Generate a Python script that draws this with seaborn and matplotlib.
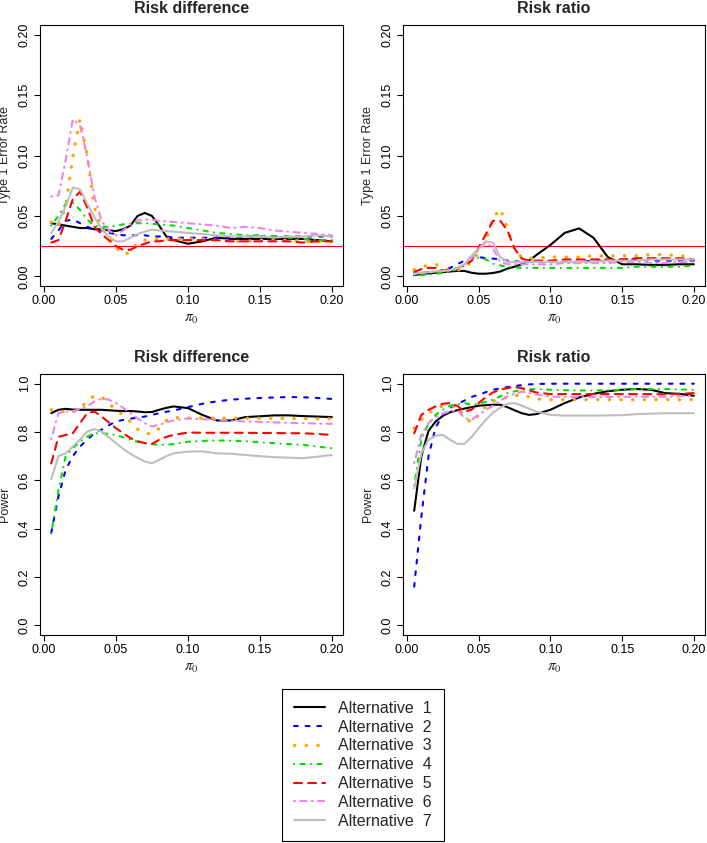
import matplotlib
matplotlib.use("Agg")
import matplotlib.pyplot as plt
import seaborn as sns

# baseline risk grid (x axis of every panel)
pi0 = [0.005, 0.01, 0.015, 0.02, 0.025, 0.03, 0.035, 0.04, 0.045, 0.05,
       0.055, 0.06, 0.065, 0.07, 0.075, 0.08, 0.085, 0.09, 0.10, 0.11,
       0.12, 0.13, 0.14, 0.15, 0.16, 0.17, 0.18, 0.19, 0.20]

# type 1 error, risk difference
rd_err = [
    [0.044, 0.043, 0.042, 0.041, 0.040, 0.040, 0.039, 0.039, 0.038, 0.0375, 0.039, 0.042, 0.050, 0.0525, 0.050, 0.042, 0.033, 0.030, 0.027, 0.029, 0.032, 0.031, 0.031, 0.031, 0.031, 0.031, 0.031, 0.030, 0.029],
    [0.031, 0.038, 0.046, 0.047, 0.044, 0.041, 0.039, 0.038, 0.036, 0.035, 0.034, 0.034, 0.034, 0.034, 0.033, 0.033, 0.033, 0.032, 0.032, 0.032, 0.032, 0.032, 0.033, 0.033, 0.033, 0.033, 0.033, 0.033, 0.033],
    [0.045, 0.041, 0.058, 0.099, 0.130, 0.100, 0.057, 0.040, 0.034, 0.024, 0.018, 0.020, 0.028, 0.030, 0.031, 0.031, 0.031, 0.031, 0.031, 0.031, 0.030, 0.029, 0.029, 0.030, 0.030, 0.030, 0.029, 0.029, 0.029],
    [0.042, 0.050, 0.060, 0.061, 0.055, 0.047, 0.042, 0.041, 0.041, 0.042, 0.043, 0.0437, 0.044, 0.044, 0.0435, 0.043, 0.0425, 0.042, 0.040, 0.038, 0.036, 0.035, 0.034, 0.034, 0.033, 0.032, 0.031, 0.030, 0.030],
    [0.028, 0.030, 0.046, 0.064, 0.070, 0.057, 0.041, 0.035, 0.030, 0.025, 0.022, 0.022, 0.025, 0.027, 0.029, 0.029, 0.030, 0.030, 0.030, 0.030, 0.030, 0.029, 0.029, 0.029, 0.029, 0.029, 0.028, 0.029, 0.029],
    [0.066, 0.067, 0.096, 0.130, 0.125, 0.099, 0.066, 0.046, 0.038, 0.034, 0.038, 0.043, 0.046, 0.047, 0.047, 0.046, 0.0455, 0.045, 0.044, 0.043, 0.042, 0.040, 0.041, 0.040, 0.038, 0.037, 0.036, 0.035, 0.034],
    [0.036, 0.045, 0.058, 0.0736, 0.072, 0.060, 0.049, 0.039, 0.033, 0.029, 0.029, 0.032, 0.035, 0.037, 0.0387, 0.038, 0.0375, 0.037, 0.036, 0.035, 0.034, 0.033, 0.033, 0.033, 0.032, 0.033, 0.033, 0.034, 0.033],
]

# type 1 error, risk ratio
rr_err = [
    [0.001, 0.002, 0.0025, 0.003, 0.0035, 0.004, 0.0045, 0.0045, 0.003, 0.0022, 0.0022, 0.0028, 0.004, 0.0064, 0.008, 0.010, 0.013, 0.0175, 0.026, 0.036, 0.0397, 0.032, 0.016, 0.010, 0.010, 0.0095, 0.0095, 0.010, 0.010],
    [0.002, 0.003, 0.0035, 0.004, 0.005, 0.007, 0.010, 0.013, 0.016, 0.016, 0.015, 0.0147, 0.014, 0.013, 0.0125, 0.012, 0.012, 0.012, 0.012, 0.012, 0.012, 0.013, 0.013, 0.014, 0.014, 0.013, 0.013, 0.013, 0.013],
    [0.0055, 0.008, 0.009, 0.010, 0.007, 0.005, 0.005, 0.007, 0.012, 0.020, 0.030, 0.048, 0.056, 0.040, 0.021, 0.016, 0.015, 0.015, 0.016, 0.016, 0.016, 0.017, 0.017, 0.017, 0.017, 0.018, 0.018, 0.017, 0.016],
    [0.001, 0.001, 0.0015, 0.002, 0.003, 0.004, 0.006, 0.009, 0.013, 0.0155, 0.014, 0.0105, 0.009, 0.008, 0.0075, 0.007, 0.007, 0.007, 0.007, 0.007, 0.007, 0.007, 0.007, 0.007, 0.008, 0.008, 0.008, 0.008, 0.009],
    [0.0036, 0.006, 0.007, 0.007, 0.005, 0.005, 0.007, 0.009, 0.013, 0.024, 0.035, 0.046, 0.046, 0.038, 0.023, 0.0147, 0.013, 0.013, 0.013, 0.014, 0.014, 0.014, 0.014, 0.014, 0.015, 0.015, 0.015, 0.015, 0.014],
    [0.002, 0.003, 0.0035, 0.004, 0.0045, 0.005, 0.007, 0.009, 0.015, 0.022, 0.029, 0.023, 0.012, 0.010, 0.010, 0.010, 0.010, 0.010, 0.010, 0.011, 0.011, 0.011, 0.011, 0.012, 0.012, 0.011, 0.011, 0.012, 0.012],
    [0.002, 0.003, 0.0035, 0.004, 0.0045, 0.005, 0.007, 0.010, 0.017, 0.023, 0.029, 0.0278, 0.016, 0.012, 0.012, 0.012, 0.012, 0.012, 0.012, 0.012, 0.012, 0.012, 0.013, 0.013, 0.013, 0.014, 0.014, 0.014, 0.014],
]

# power, risk difference
rd_pow = [
    [0.878, 0.892, 0.896, 0.893, 0.892, 0.892, 0.892, 0.892, 0.890, 0.888, 0.887, 0.887, 0.885, 0.882, 0.883, 0.892, 0.900, 0.906, 0.899, 0.871, 0.848, 0.848, 0.862, 0.865, 0.869, 0.869, 0.866, 0.864, 0.862],
    [0.383, 0.533, 0.643, 0.700, 0.740, 0.768, 0.795, 0.810, 0.828, 0.844, 0.850, 0.855, 0.860, 0.864, 0.871, 0.878, 0.884, 0.889, 0.903, 0.917, 0.927, 0.934, 0.938, 0.941, 0.943, 0.945, 0.944, 0.941, 0.937],
    [0.892, 0.885, 0.885, 0.884, 0.895, 0.930, 0.950, 0.945, 0.918, 0.892, 0.870, 0.843, 0.812, 0.795, 0.792, 0.815, 0.848, 0.860, 0.858, 0.858, 0.858, 0.857, 0.857, 0.857, 0.857, 0.856, 0.856, 0.855, 0.855],
    [0.380, 0.560, 0.700, 0.733, 0.760, 0.781, 0.795, 0.795, 0.792, 0.788, 0.778, 0.768, 0.760, 0.754, 0.750, 0.747, 0.748, 0.750, 0.760, 0.763, 0.765, 0.764, 0.762, 0.758, 0.754, 0.750, 0.747, 0.740, 0.733],
    [0.670, 0.780, 0.788, 0.795, 0.837, 0.878, 0.885, 0.864, 0.840, 0.816, 0.795, 0.775, 0.762, 0.754, 0.751, 0.768, 0.780, 0.788, 0.798, 0.797, 0.797, 0.797, 0.797, 0.796, 0.796, 0.795, 0.795, 0.792, 0.788],
    [0.770, 0.878, 0.885, 0.885, 0.895, 0.906, 0.927, 0.938, 0.934, 0.920, 0.900, 0.878, 0.857, 0.837, 0.823, 0.830, 0.840, 0.848, 0.856, 0.853, 0.851, 0.847, 0.844, 0.842, 0.840, 0.838, 0.837, 0.835, 0.834],
    [0.604, 0.700, 0.712, 0.740, 0.768, 0.802, 0.812, 0.802, 0.778, 0.754, 0.730, 0.710, 0.693, 0.678, 0.671, 0.685, 0.700, 0.712, 0.719, 0.720, 0.712, 0.710, 0.705, 0.700, 0.696, 0.694, 0.692, 0.698, 0.705],
]

# power, risk ratio
rr_pow = [
    [0.474, 0.700, 0.805, 0.844, 0.867, 0.882, 0.890, 0.897, 0.903, 0.909, 0.911, 0.913, 0.913, 0.903, 0.890, 0.878, 0.871, 0.874, 0.892, 0.920, 0.943, 0.958, 0.969, 0.975, 0.978, 0.975, 0.961, 0.958, 0.950],
    [0.160, 0.450, 0.700, 0.820, 0.870, 0.899, 0.915, 0.930, 0.945, 0.955, 0.965, 0.975, 0.981, 0.986, 0.990, 0.994, 0.997, 0.999, 1.0, 1.0, 1.0, 1.0, 1.0, 1.0, 1.0, 1.0, 1.0, 1.0, 1.0],
    [0.816, 0.851, 0.878, 0.895, 0.909, 0.909, 0.906, 0.864, 0.838, 0.871, 0.906, 0.927, 0.937, 0.945, 0.950, 0.955, 0.945, 0.937, 0.934, 0.934, 0.934, 0.934, 0.934, 0.934, 0.934, 0.934, 0.934, 0.934, 0.934],
    [0.580, 0.768, 0.837, 0.871, 0.892, 0.909, 0.915, 0.920, 0.913, 0.917, 0.925, 0.934, 0.948, 0.961, 0.968, 0.975, 0.977, 0.978, 0.975, 0.973, 0.972, 0.972, 0.973, 0.975, 0.978, 0.978, 0.978, 0.976, 0.975],
    [0.795, 0.871, 0.892, 0.906, 0.917, 0.920, 0.909, 0.885, 0.892, 0.920, 0.945, 0.964, 0.975, 0.982, 0.986, 0.982, 0.973, 0.964, 0.957, 0.957, 0.957, 0.957, 0.957, 0.957, 0.957, 0.957, 0.956, 0.958, 0.961],
    [0.671, 0.788, 0.837, 0.862, 0.876, 0.885, 0.892, 0.858, 0.851, 0.871, 0.892, 0.909, 0.930, 0.947, 0.958, 0.967, 0.962, 0.955, 0.947, 0.945, 0.945, 0.945, 0.945, 0.946, 0.946, 0.946, 0.946, 0.948, 0.950],
    [0.567, 0.712, 0.768, 0.785, 0.788, 0.768, 0.751, 0.751, 0.779, 0.816, 0.851, 0.881, 0.900, 0.917, 0.920, 0.909, 0.897, 0.885, 0.871, 0.868, 0.868, 0.868, 0.869, 0.870, 0.874, 0.876, 0.878, 0.878, 0.878],
]

alt_labels = [f"Alternative  {i}" for i in range(1, 8)]
alt_colors = ["black", "#0000FF", "#FFA500", "#00DD00", "#FF0000", "#EE82EE", "#BEBEBE"]
# R-like line types (round caps, so "on" parts are shortened)
alt_styles = ["-", (0, (1.8, 3.8)), (0, (0.1, 3.4)), (0, (0.1, 3.0, 2.0, 3.0)),
              (0, (3.8, 3.0)), (0, (0.5, 2.5, 3.0, 2.5)), "-"]
alt_widths = [1.5, 1.5, 2.4, 1.5, 1.5, 1.5, 1.5]

sns.set_theme(style="ticks")
plt.rcParams["font.family"] = ["Liberation Sans", "DejaVu Sans"]
plt.rcParams["mathtext.fontset"] = "stix"

fig = plt.figure(figsize=(7.07, 8.43), dpi=100)

panels = [
    ([0.0566, 0.6607, 0.4286, 0.3096], rd_err, "Risk difference", "Type 1 Error Rate", True),
    ([0.5700, 0.6607, 0.4272, 0.3096], rr_err, "Risk ratio", "Type 1 Error Rate", True),
    ([0.0566, 0.2467, 0.4286, 0.3096], rd_pow, "Risk difference", "Power", False),
    ([0.5700, 0.2467, 0.4272, 0.3096], rr_pow, "Risk ratio", "Power", False),
]

handles = []
for rect, series, title, ylab, is_err in panels:
    ax = fig.add_axes(rect)
    if is_err:
        ax.axhline(0.025, color="red", lw=0.8, zorder=1)
    for k, y in enumerate(series):
        sns.lineplot(x=pi0, y=y, ax=ax, color=alt_colors[k], linewidth=alt_widths[k],
                     linestyle=alt_styles[k], dash_capstyle="round",
                     solid_capstyle="round", errorbar=None, legend=False, zorder=2)
        if len(handles) < 7:
            handles.append(ax.lines[-1])

    ax.set_xlim(-0.0028, 0.2078)
    ax.set_xticks([0.0, 0.05, 0.10, 0.15, 0.20])
    ax.set_xticklabels(["0.00", "0.05", "0.10", "0.15", "0.20"])
    if is_err:
        ax.set_ylim(-0.008, 0.208)
        ax.set_yticks([0.0, 0.05, 0.10, 0.15, 0.20])
        ax.set_yticklabels(["0.00", "0.05", "0.10", "0.15", "0.20"])
    else:
        ax.set_ylim(-0.04, 1.04)
        ax.set_yticks([0.0, 0.2, 0.4, 0.6, 0.8, 1.0])
        ax.set_yticklabels(["0.0", "0.2", "0.4", "0.6", "0.8", "1.0"])

    for sp in ax.spines.values():
        sp.set_visible(True)
        sp.set_color("black")
        sp.set_linewidth(0.8)
    ax.tick_params(direction="out", length=4, width=0.8, labelsize=9, pad=2.5,
                   colors="black", top=False, right=False)
    ax.tick_params(axis="y", labelrotation=90)
    for lbl in ax.get_yticklabels():
        lbl.set_va("center")

    ax.set_title(title, fontsize=11.5, fontweight="bold", pad=9)
    ax.set_xlabel(r"$\pi_0$", fontsize=11)
    ax.xaxis.set_label_coords(0.5, -0.1)
    ax.set_ylabel(ylab, fontsize=9)
    ax.yaxis.set_label_coords(-0.096, 0.5)

leg = fig.legend(handles[:7], alt_labels, loc="upper center",
                 bbox_to_anchor=(0.5134, 0.1827), fontsize=11.5, frameon=True,
                 fancybox=False, edgecolor="black", framealpha=1,
                 handlelength=1.95, handletextpad=0.85, borderpad=0.74,
                 labelspacing=0.24, borderaxespad=0)
leg.get_frame().set_linewidth(0.8)

fig.savefig("out.png", dpi=100)
